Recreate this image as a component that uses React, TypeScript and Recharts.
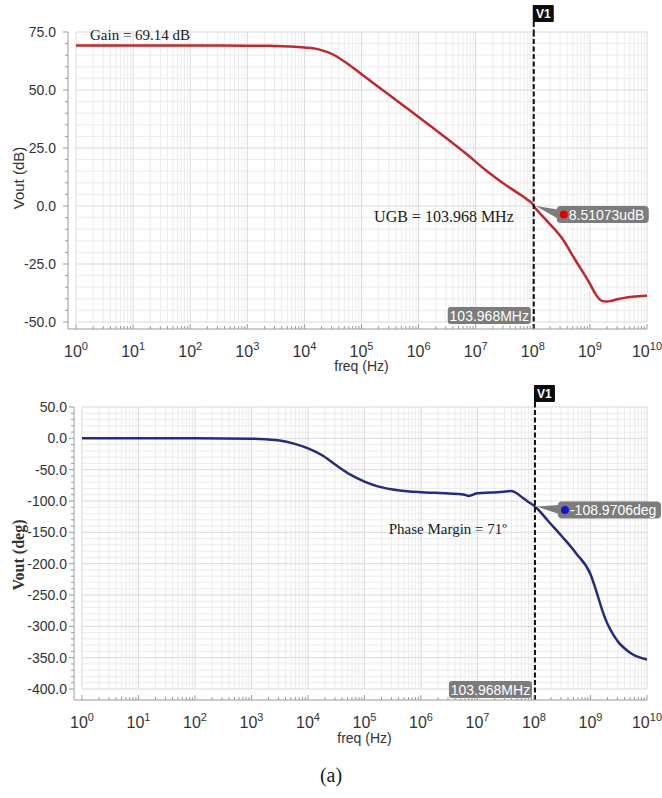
import React from "react";
import { LineChart, Line, XAxis, YAxis, ReferenceLine, ReferenceDot } from "recharts";

// log10(freq / Hz) of the sample points
const LOG_FREQ = [
  0, 1, 2, 3, 3.25, 3.5, 3.75, 4, 4.25, 4.5, 4.75, 5, 5.25, 5.5, 5.75, 6, 6.25, 6.5,
  6.75, 6.85, 6.9, 7, 7.25, 7.5, 7.6, 7.7, 7.8, 7.9, 8, 8.017, 8.1, 8.25, 8.5, 8.75,
  9, 9.1, 9.2, 9.3, 9.4, 9.5, 9.6, 9.75, 10,
];

// magnitude (dB)
const GAIN_DB = [
  69.14, 69.14, 69.14, 69.1, 69.05, 69.0, 68.75, 68.3, 67.5, 65.3, 61.4, 56.8, 52.2, 47.6,
  43, 38.4, 33.7, 29, 24.2, 22.2, 21.2, 19.0, 14.0, 9.5, 7.8, 6.2, 4.6, 2.8, 0.7, 0, -2.5,
  -6.5, -13.5, -23.5, -33.5, -38, -40.8, -41.2, -40.7, -40.1, -39.6, -39.1, -38.7,
];

// phase (deg)
const PHASE_DEG = [
  0, 0, 0, -0.5, -1.5, -3.5, -8.5, -16, -27, -43, -58, -69, -77, -81.5, -84.5, -86,
  -87, -88, -89.5, -92, -90.5, -87.5, -86.5, -85, -84, -88, -95, -101.5, -107.5,
  -108.97, -116, -132, -157, -184, -217, -243, -272, -296, -313, -326, -335, -345, -353,
];

const UGB_LOG = 8.017; // 103.968 MHz
const UGB_GAIN = 0;
const UGB_PHASE = -108.97;

const DECADES = [0, 1, 2, 3, 4, 5, 6, 7, 8, 9, 10];
const GAIN_MAJOR = [-50, -25, 0, 25, 50, 75];
const PHASE_MAJOR = [-400, -350, -300, -250, -200, -150, -100, -50, 0, 50];

const SANS = '"Liberation Sans", Arial, Helvetica, sans-serif';
const SERIF = '"Liberation Serif", "Times New Roman", Times, serif';

const RED = "#c0282d";
const NAVY = "#262b80";

const X_MINOR = DECADES.slice(0, -1).flatMap((d) =>
  [2, 3, 4, 5, 6, 7, 8, 9].map((k) => d + Math.log10(k))
);
const X_TICKS = [...DECADES, ...X_MINOR].sort((a, b) => a - b);

const steps = (lo: number, hi: number, step: number) => {
  const out: number[] = [];
  for (let v = lo; v <= hi + 1e-9; v += step) out.push(Math.round(v * 1000) / 1000);
  return out;
};
const GAIN_TICKS = steps(-50, 75, 5);
const PHASE_TICKS = steps(-400, 50, 10);

const data = LOG_FREQ.map((f, i) => ({ logf: f, gain: GAIN_DB[i], phase: PHASE_DEG[i] }));

const isInt = (v: number) => Math.abs(v - Math.round(v)) < 1e-6;

// x-axis tick: ticks point up into the plot, labels as 10^n
const LogTick = (props: any) => {
  const { x, y, payload, labelDy } = props;
  const v = payload.value as number;
  const major = isInt(v);
  return (
    <g>
      <line x1={x} x2={x} y1={y} y2={y - (major ? 5 : 3)} stroke="#9a9a9a" />
      {major && (
        <text x={x} y={y + labelDy} textAnchor="middle" fontFamily={SANS} fill="#333">
          <tspan fontSize={16}>10</tspan>
          <tspan fontSize={11} dy={-7}>
            {Math.round(v)}
          </tspan>
        </text>
      )}
    </g>
  );
};

const ValueTick = (props: any) => {
  const { x, y, payload, majorStep, gap } = props;
  const v = payload.value as number;
  const major = Math.abs(v / majorStep - Math.round(v / majorStep)) < 1e-6;
  return (
    <g>
      <line x1={x} x2={x - (major ? 5 : 3)} y1={y} y2={y} stroke="#9a9a9a" />
      {major && (
        <text
          x={x - gap}
          y={y}
          textAnchor="end"
          dominantBaseline="central"
          fontFamily={SANS}
          fontSize={14}
          fill="#333"
        >
          {v.toFixed(1)}
        </text>
      )}
    </g>
  );
};

const YTitle = (props: any) => {
  const { viewBox, text, cx, dy, serif } = props;
  const cy = viewBox.y + viewBox.height / 2 + dy;
  return (
    <text
      x={cx}
      y={cy}
      transform={`rotate(-90, ${cx}, ${cy})`}
      textAnchor="middle"
      dominantBaseline="central"
      fontFamily={serif ? SERIF : SANS}
      fontWeight={serif ? "bold" : "normal"}
      fontSize={serif ? 16 : 15}
      fill="#333"
    >
      {text}
    </text>
  );
};

const FreqTitle = (props: any) => {
  const { viewBox, dy } = props;
  return (
    <text
      x={viewBox.x + viewBox.width / 2 + 4}
      y={viewBox.y + dy}
      textAnchor="middle"
      dominantBaseline="central"
      fontFamily={SANS}
      fontSize={14}
      fill="#333"
    >
      freq (Hz)
    </text>
  );
};

// light log grid, drawn as data-space segments so it stops at the plot edges
const gridLines = (yMin: number, yMax: number, yMinor: number[], yMajor: number[]) => [
  ...X_MINOR.map((v) => (
    <ReferenceLine
      key={`vm${v}`}
      segment={[{ x: v, y: yMin }, { x: v, y: yMax }]}
      stroke="#ececec"
      zIndex={-100}
    />
  )),
  ...yMinor
    .filter((v) => !yMajor.includes(v))
    .map((v) => (
      <ReferenceLine
        key={`hm${v}`}
        segment={[{ x: 0, y: v }, { x: 10, y: v }]}
        stroke="#ececec"
        zIndex={-100}
      />
    )),
  ...DECADES.map((v) => (
    <ReferenceLine
      key={`vM${v}`}
      segment={[{ x: v, y: yMin }, { x: v, y: yMax }]}
      stroke="#d9d9d9"
      zIndex={-100}
    />
  )),
  ...yMajor.map((v) => (
    <ReferenceLine
      key={`hM${v}`}
      segment={[{ x: 0, y: v }, { x: 10, y: v }]}
      stroke="#d9d9d9"
      zIndex={-100}
    />
  )),
];

const v1Flag = (gap: number) => (p: any) => {
  const { cx, cy } = p;
  return (
    <g>
      <line
        x1={cx}
        x2={cx}
        y1={cy - gap}
        y2={cy}
        stroke="#111"
        strokeWidth={2}
        strokeDasharray="5 2.5"
      />
      <rect x={cx - 1} y={cy - gap - 17} width={21} height={17} rx={1} fill="#0b0b0b" />
      <text
        x={cx + 9.5}
        y={cy - gap - 8}
        textAnchor="middle"
        dominantBaseline="central"
        fontFamily={SANS}
        fontWeight="bold"
        fontSize={12}
        fill="#fff"
      >
        V1
      </text>
    </g>
  );
};

const freqBox = (bottomOff: number) => (p: any) => {
  const { cx, cy } = p;
  const w = 83;
  const h = 17;
  const top = cy + bottomOff - h;
  return (
    <g>
      <rect x={cx - 3 - w} y={top} width={w} height={h} rx={3} fill="#7c7c7c" />
      <text
        x={cx - 3 - w / 2}
        y={top + h / 2}
        textAnchor="middle"
        dominantBaseline="central"
        fontFamily={SANS}
        fontSize={14}
        fill="#fff"
      >
        103.968MHz
      </text>
    </g>
  );
};

const valueBox = (text: string, dot: string, boxTop: number, w: number) => (p: any) => {
  const { cx, cy } = p;
  const h = 17;
  const left = cx + 23;
  const top = cy + boxTop;
  const mid = top + h / 2;
  return (
    <g>
      <polygon
        points={`${cx + 2},${cy} ${left + 1},${mid - 5} ${left + 1},${mid + 4}`}
        fill="#7c7c7c"
      />
      <rect x={left} y={top} width={w} height={h} rx={4} fill="#7c7c7c" />
      <circle cx={left + 7} cy={mid} r={4} fill={dot} />
      <text
        x={left + 12}
        y={mid}
        dominantBaseline="central"
        fontFamily={SANS}
        fontSize={14}
        fill="#fff"
      >
        {text}
      </text>
    </g>
  );
};

const note =
  (text: string, dx: number, dy: number, anchor: string, size: number) => (p: any) => (
    <text
      x={p.cx + dx}
      y={p.cy + dy}
      textAnchor={anchor}
      fontFamily={SERIF}
      fontSize={size}
      fill="#1a1a1a"
    >
      {text}
    </text>
  );

function GainChart() {
  return (
    <LineChart width={662} height={376} data={data} margin={{ top: 32, right: 15, bottom: 0, left: 0 }}>
      {gridLines(-50, 75, GAIN_TICKS, GAIN_MAJOR)}
      <XAxis
        dataKey="logf"
        type="number"
        domain={[0, 10]}
        ticks={X_TICKS}
        interval={0}
        tickSize={0}
        tickMargin={0}
        tickLine={false}
        axisLine={{ stroke: "#9a9a9a" }}
        padding={{ left: 8, right: 0 }}
        height={47}
        tick={<LogTick labelDy={27.5} />}
        label={<FreqTitle dy={37} />}
      />
      <YAxis
        type="number"
        domain={[-50, 75]}
        ticks={GAIN_TICKS}
        interval={0}
        tickSize={0}
        tickMargin={0}
        tickLine={false}
        axisLine={{ stroke: "#9a9a9a" }}
        padding={{ top: 0, bottom: 7 }}
        width={68}
        tick={<ValueTick majorStep={25} gap={12} />}
        label={<YTitle text="Vout (dB)" cx={18} dy={-2.5} />}
      />
      <Line
        type="monotone"
        dataKey="gain"
        stroke={RED}
        strokeWidth={2.5}
        dot={false}
        activeDot={false}
        isAnimationActive={false}
      />
      <ReferenceLine x={UGB_LOG} stroke="#111" strokeWidth={2} strokeDasharray="5 2.5" />
      <ReferenceDot x={UGB_LOG} y={75} ifOverflow="visible" shape={v1Flag(10)} />
      <ReferenceDot x={UGB_LOG} y={-50} ifOverflow="visible" shape={freqBox(2)} />
      <ReferenceDot x={0} y={75} ifOverflow="visible" shape={note("Gain = 69.14 dB", 14, 7.5, "start", 15)} />
      <ReferenceDot
        x={UGB_LOG}
        y={UGB_GAIN}
        ifOverflow="visible"
        shape={note("UGB = 103.968 MHz", -20, 16, "end", 16)}
      />
      <ReferenceDot
        x={UGB_LOG}
        y={UGB_GAIN}
        ifOverflow="visible"
        shape={valueBox("8.51073udB", "#e00000", 0, 92)}
      />
    </LineChart>
  );
}

function PhaseChart() {
  return (
    <LineChart width={662} height={370} data={data} margin={{ top: 27, right: 15, bottom: 0, left: 0 }}>
      {gridLines(-400, 50, PHASE_TICKS, PHASE_MAJOR)}
      <XAxis
        dataKey="logf"
        type="number"
        domain={[0, 10]}
        ticks={X_TICKS}
        interval={0}
        tickSize={0}
        tickMargin={0}
        tickLine={false}
        axisLine={{ stroke: "#9a9a9a" }}
        padding={{ left: 8, right: 0 }}
        height={50}
        tick={<LogTick labelDy={27.5} />}
        label={<FreqTitle dy={38} />}
      />
      <YAxis
        type="number"
        domain={[-400, 50]}
        ticks={PHASE_TICKS}
        interval={0}
        tickSize={0}
        tickMargin={0}
        tickLine={false}
        axisLine={{ stroke: "#9a9a9a" }}
        padding={{ top: 0, bottom: 11 }}
        width={74}
        tick={<ValueTick majorStep={50} gap={7} />}
        label={<YTitle text="Vout (deg)" cx={18} dy={1.5} serif />}
      />
      <Line
        type="monotone"
        dataKey="phase"
        stroke={NAVY}
        strokeWidth={2.5}
        dot={false}
        activeDot={false}
        isAnimationActive={false}
      />
      <ReferenceLine x={UGB_LOG} stroke="#111" strokeWidth={2} strokeDasharray="5 2.5" />
      <ReferenceDot x={UGB_LOG} y={50} ifOverflow="visible" shape={v1Flag(5)} />
      <ReferenceDot x={UGB_LOG} y={-400} ifOverflow="visible" shape={freqBox(9)} />
      <ReferenceDot
        x={UGB_LOG}
        y={UGB_PHASE}
        ifOverflow="visible"
        shape={note("Phase Margin = 71º", -28, 27.5, "end", 15)}
      />
      <ReferenceDot
        x={UGB_LOG}
        y={UGB_PHASE}
        ifOverflow="visible"
        shape={valueBox("-108.9706deg", "#1414d0", -5, 103)}
      />
    </LineChart>
  );
}

export default function App() {
  return (
    <div style={{ position: "absolute", left: 0, top: 0, width: 662, height: 798, background: "#fff" }}>
      <div style={{ position: "absolute", left: 0, top: 0 }}>
        <GainChart />
      </div>
      <div style={{ position: "absolute", left: 0, top: 380 }}>
        <PhaseChart />
      </div>
      <div
        style={{
          position: "absolute",
          left: 0,
          top: 764,
          width: 662,
          textAlign: "center",
          fontFamily: SERIF,
          fontSize: 20,
          color: "#1a1a1a",
        }}
      >
        (a)
      </div>
    </div>
  );
}
